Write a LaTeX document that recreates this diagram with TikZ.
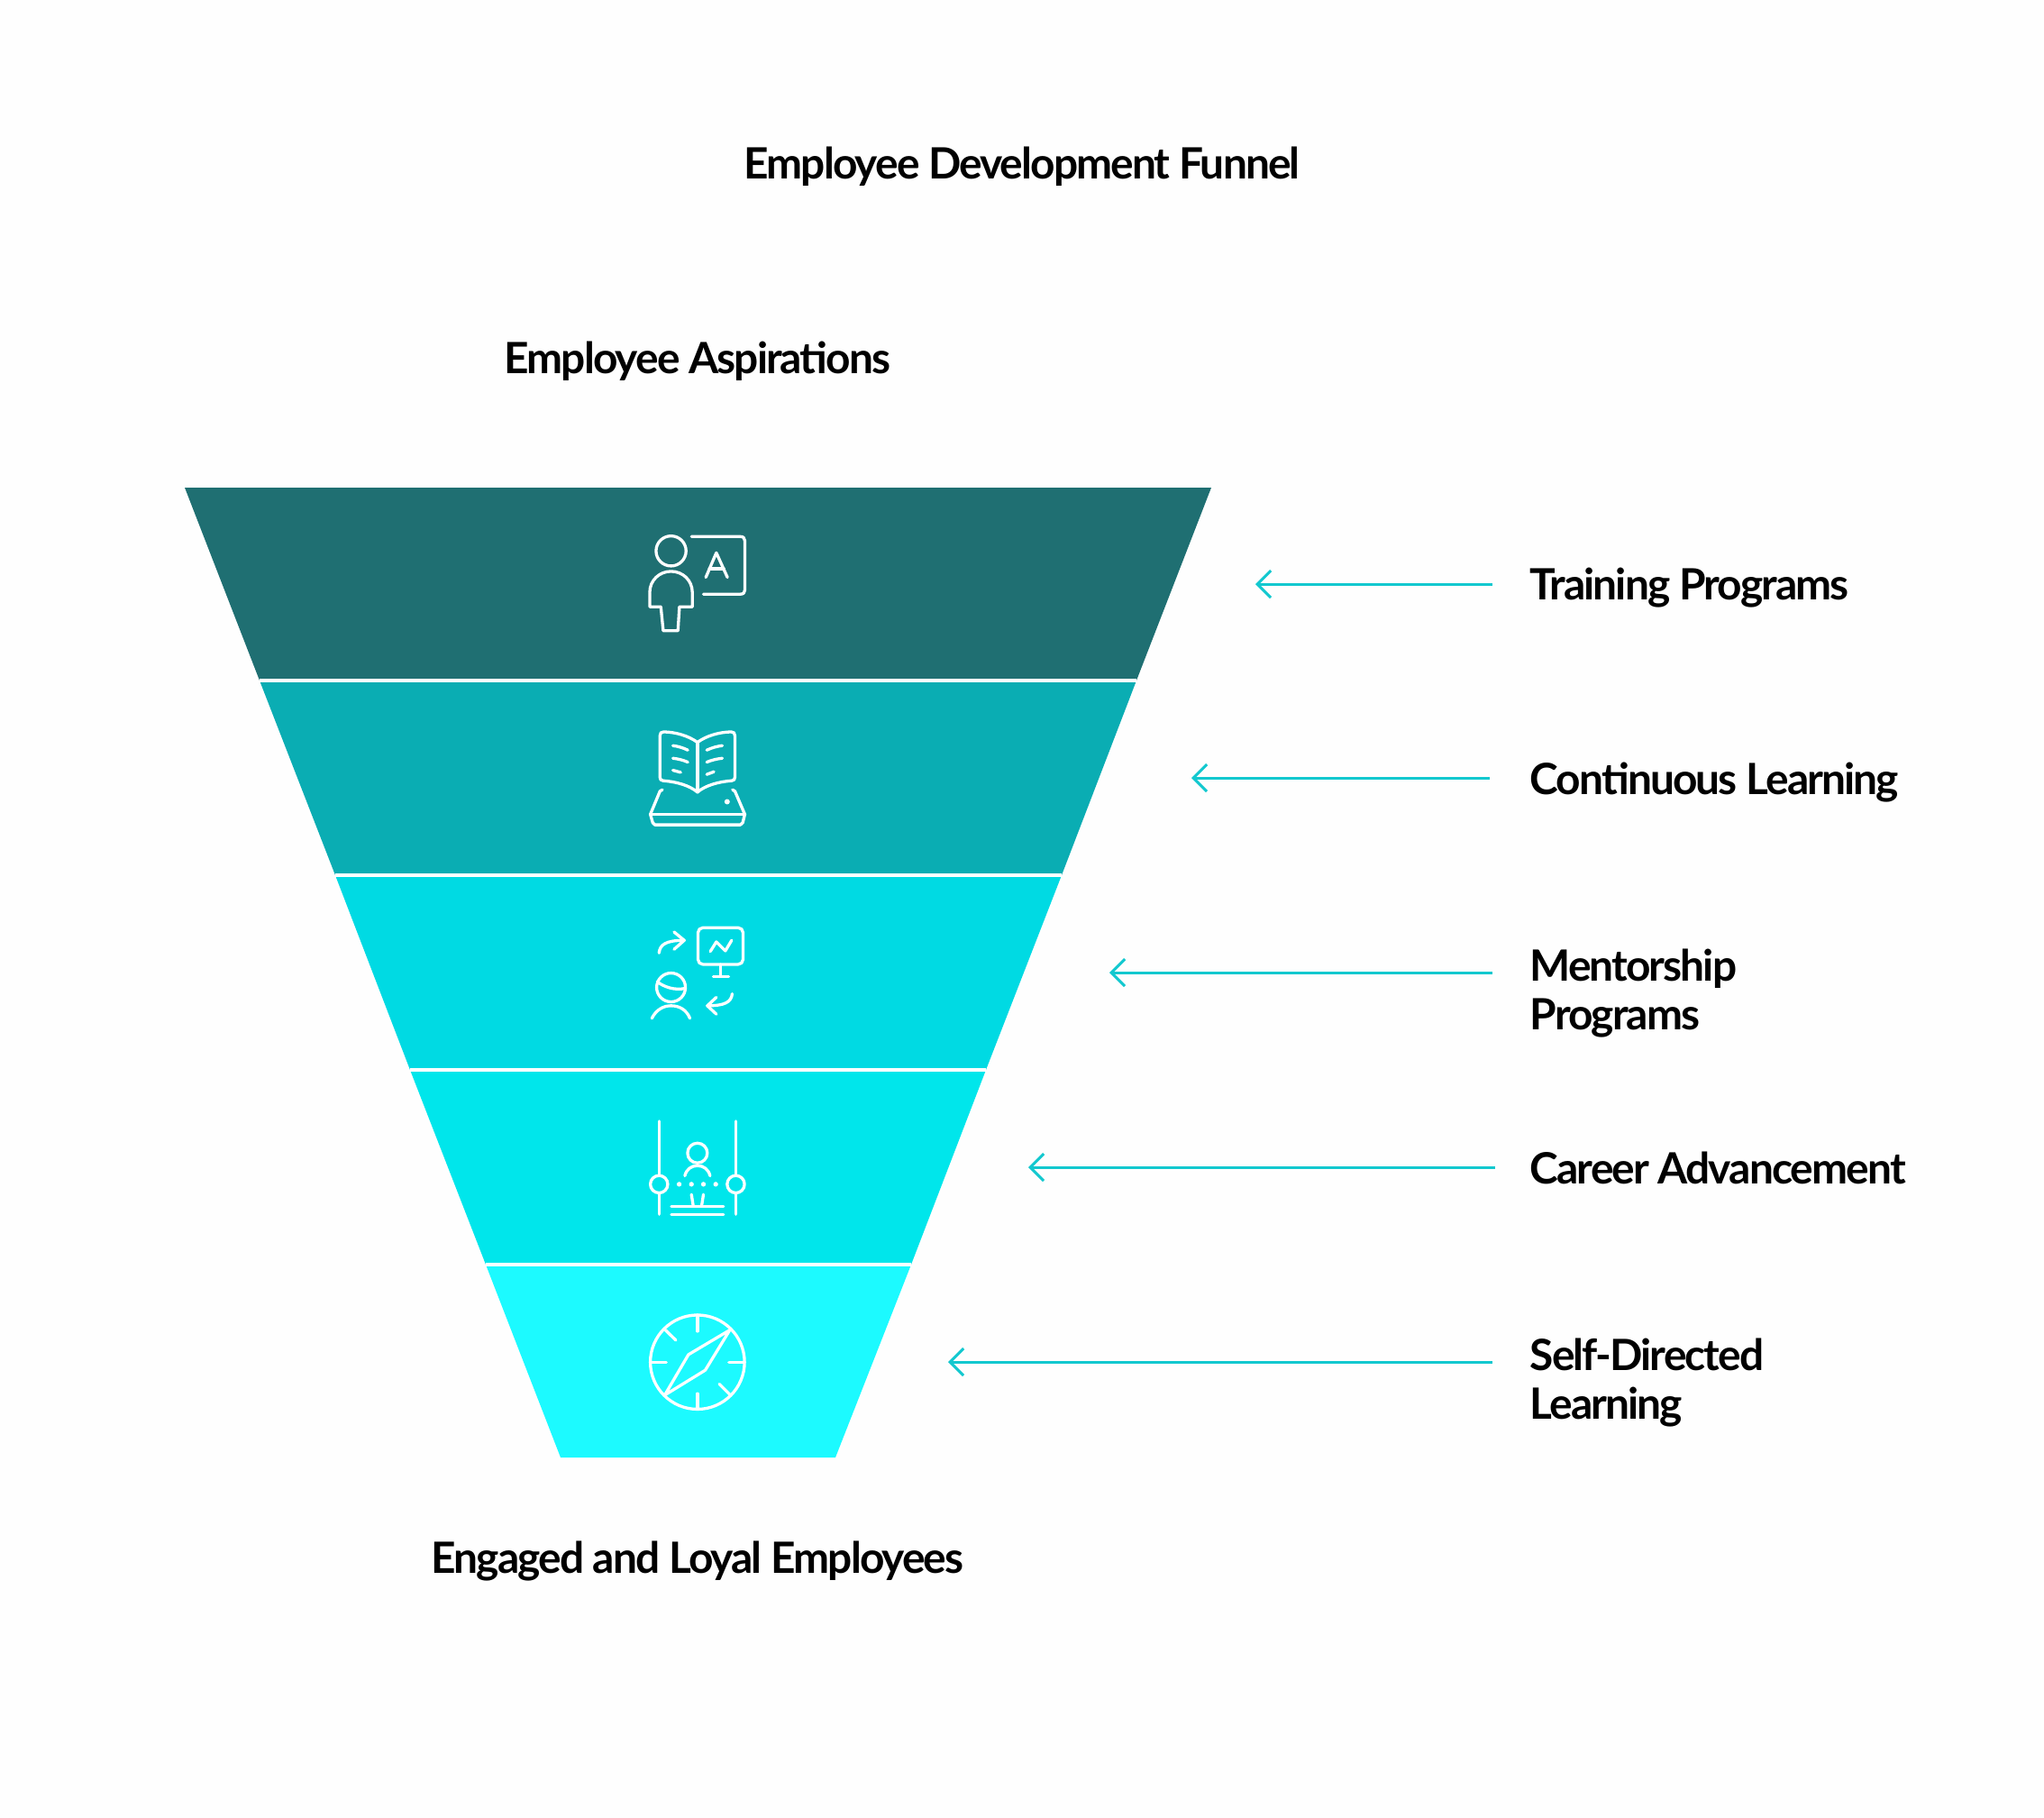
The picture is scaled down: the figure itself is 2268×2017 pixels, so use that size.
\documentclass[tikz,border=0pt]{standalone}
\usepackage{fontspec}
\setmainfont{Lato}[LetterSpace=-4]
\usetikzlibrary{positioning, arrows.meta}
\definecolor{bandA}{HTML}{1F6F72}
\definecolor{bandB}{HTML}{0AADB3}
\definecolor{bandC}{HTML}{00DAE3}
\definecolor{bandD}{HTML}{00E6EB}
\definecolor{bandE}{HTML}{1CFAFF}
\definecolor{arrowcol}{HTML}{12C8CF}
\definecolor{paper}{HTML}{FEFEFE}
\tikzset{
  label/.style={font=\fontsize{13.6}{15.2}\selectfont\bfseries, inner sep=0pt, text=black, anchor=base},
  sidelabel/.style={label, anchor=base west, align=left},
  pointer/.style={arrowcol, line width=0.03cm, {Straight Barb[length=0.15cm,width=0.3cm]}-},
  sep/.style={white, line width=0.035cm},
  icon/.style={white, line width=0.033cm, line cap=round, line join=round},
  zoomed/.style={icon, x=0.003333cm, y=-0.003333cm}
}
\begin{document}
\begin{tikzpicture}[x=0.01cm, y=-0.01cm]
  \useasboundingbox[fill=paper] (0,0) rectangle (2268,2017);

  \fill[bandA] (205,541) -- (1344,541) -- (1261,755) -- (288,755) -- cycle;
  \fill[bandB] (288,755) -- (1261,755) -- (1178,971) -- (372,971) -- cycle;
  \fill[bandC] (372,971) -- (1178,971) -- (1094,1187) -- (455,1187) -- cycle;
  \fill[bandD] (455,1187) -- (1094,1187) -- (1011,1403) -- (539,1403) -- cycle;
  \fill[bandE] (539,1403) -- (1011,1403) -- (927,1617) -- (622,1617) -- cycle;
  \draw[sep] (288,755) -- (1261,755);
  \draw[sep] (372,971) -- (1178,971);
  \draw[sep] (455,1187) -- (1094,1187);
  \draw[sep] (539,1403) -- (1011,1403);

  \node[label] (title) at (1134,198) {Employee Development Funnel};
  \node[label] (top) at (774,414) {Employee Aspirations};
  \node[label] (bottom) at (774,1745) {Engaged and Loyal Employees};

  \node[sidelabel] (training) at (1697,665) {Training Programs};
  \node[sidelabel] (continuous) at (1697,881) {Continuous Learning};
  \node[sidelabel] (mentorship) at (1697,1142) {Mentorship\\Programs};
  \node[sidelabel] (career) at (1697,1313) {Career Advancement};
  \node[sidelabel] (self) at (1697,1574) {Self-Directed\\Learning};

  \coordinate (tipA) at (1393,648);  \coordinate (tailA) at (1656,648);
  \coordinate (tipB) at (1322,863);  \coordinate (tailB) at (1653,863);
  \coordinate (tipC) at (1231,1079); \coordinate (tailC) at (1656,1079);
  \coordinate (tipD) at (1141,1295); \coordinate (tailD) at (1659,1295);
  \coordinate (tipE) at (1052,1511); \coordinate (tailE) at (1656,1511);
  \draw[pointer] (tipA) -- (tailA);
  \draw[pointer] (tipB) -- (tailB);
  \draw[pointer] (tipC) -- (tailC);
  \draw[pointer] (tipD) -- (tailD);
  \draw[pointer] (tipE) -- (tailE);

  % teacher and book
  \begin{scope}[shift={(690,570)}, zoomed]
    \draw[icon] (164,124) circle[radius=50];
    \draw[icon] (93,310) -- (93,262) .. controls (93,222) and (125,192) .. (164,192)
      .. controls (203,192) and (235,222) .. (235,262) -- (235,310) -- (192,310)
      -- (187,390) -- (138,390) -- (130,310) -- cycle;
    \draw[icon] (232,76) -- (395,76) .. controls (405,76) and (410,81) .. (410,90)
      -- (410,255) .. controls (410,263) and (405,268) .. (395,268) -- (272,268);
    \draw[icon] (280,212) -- (315,130) -- (352,212);
    \draw[icon] (292,183) -- (340,183);

    \draw[icon] (252,762) .. controls (222,740) and (180,728) .. (140,727)
      .. controls (131,727) and (127,731) .. (127,740) -- (127,878)
      .. controls (127,886) and (130,889) .. (138,890)
      .. controls (180,893) and (225,905) .. (252,928)
      .. controls (279,905) and (324,893) .. (366,890)
      .. controls (374,889) and (377,886) .. (377,878) -- (377,740)
      .. controls (377,731) and (373,727) .. (364,727)
      .. controls (324,728) and (282,740) .. (252,762) -- cycle;
    \draw[icon] (252,762) -- (252,928);
    \draw[icon] (170,773) .. controls (187,775) and (204,780) .. (220,788);
    \draw[icon] (170,815) .. controls (187,817) and (204,821) .. (220,828);
    \draw[icon] (170,855) -- (196,862);
    \draw[icon] (335,773) .. controls (317,775) and (300,780) .. (283,788);
    \draw[icon] (335,815) .. controls (317,817) and (300,821) .. (283,828);
    \draw[icon] (307,860) -- (283,869);
    \draw[icon] (135,920) -- (127,925) -- (95,1002) -- (103,1030) -- (110,1037)
      -- (395,1037) -- (403,1030) -- (410,1002) -- (377,925) -- (369,920);
    \draw[icon] (95,1002) -- (410,1002);
    \fill[white] (351,960) circle[radius=9];
  \end{scope}

  % mentor
  \begin{scope}[shift={(690,1000)}, zoomed]
    \draw[icon] (124,172) .. controls (127,145) and (145,130) .. (208,130);
    \draw[icon] (174,102) -- (208,130) -- (174,160);
    \draw[icon, rounded corners=1.5pt] (254,88) rectangle (404,210);
    \draw[icon] (330,210) -- (330,250);
    \draw[icon] (305,250) -- (356,250);
    \draw[icon] (295,167) -- (315,135) -- (345,165) -- (366,130);
    \draw[icon] (164,287) circle[radius=48];
    \draw[icon] (118,268) .. controls (140,285) and (175,298) .. (212,290);
    \draw[icon] (100,390) .. controls (115,360) and (140,348) .. (164,348)
      .. controls (190,348) and (215,360) .. (227,390);
    \draw[icon] (368,308) .. controls (365,335) and (345,348) .. (285,348);
    \draw[icon] (315,320) -- (285,348) -- (315,376);
  \end{scope}

  % career and compass
  \begin{scope}[shift={(690,1220)}, zoomed]
    \draw[icon] (124,72) -- (124,252);
    \draw[icon] (124,282) circle[radius=29];
    \draw[icon] (124,312) -- (124,382);
    \draw[icon] (380,72) -- (380,252);
    \draw[icon] (380,282) circle[radius=29];
    \draw[icon] (380,312) -- (380,382);
    \draw[icon] (252,178) circle[radius=33];
    \draw[icon] (210,254) .. controls (215,232) and (232,220) .. (252,220)
      .. controls (272,220) and (289,232) .. (294,254);
    \foreach \dotx in {191,232,272,313}
      \fill[white] (\dotx,282) circle[radius=8];
    \draw[icon] (232,316) -- (238,354);
    \draw[icon] (272,316) -- (266,354);
    \draw[icon] (165,355) -- (339,355);
    \draw[icon] (165,383) -- (339,383);

    \draw[icon] (252,875) circle[radius=157];
    \draw[icon] (252,718) -- (252,772);
    \draw[icon] (252,980) -- (252,1032);
    \draw[icon] (95,875) -- (148,875);
    \draw[icon] (357,875) -- (410,875);
    \draw[icon] (145,768) -- (180,802);
    \draw[icon] (325,948) -- (362,985);
    \draw[icon] (360,768) -- (222,850) -- (143,985) -- (278,902) -- cycle;
  \end{scope}
\end{tikzpicture}
\end{document}
